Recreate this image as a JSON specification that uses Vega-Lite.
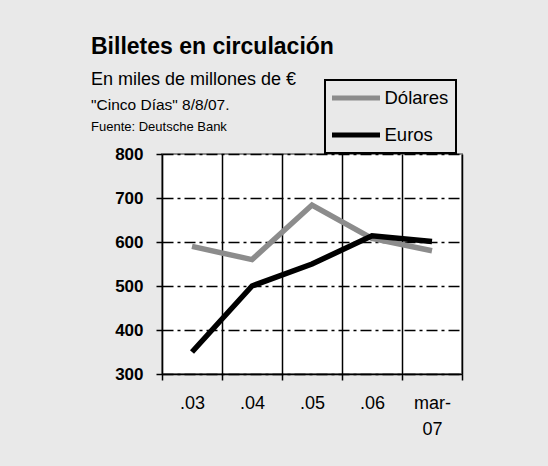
{
  "$schema": "https://vega.github.io/schema/vega-lite/v6.json",
  "background": "#e9e9e9",
  "padding": {"left": 90, "top": 35, "right": 87, "bottom": 28},
  "title": {
    "text": "Billetes en circulación",
    "subtitle": "En miles de millones de €",
    "anchor": "start",
    "frame": "group",
    "dx": -71,
    "font": "Liberation Sans",
    "fontSize": 23,
    "fontWeight": "bold",
    "color": "black",
    "subtitleFont": "Liberation Sans",
    "subtitleFontSize": 18,
    "subtitleColor": "black",
    "subtitlePadding": 12,
    "offset": -10.6
  },
  "data": {
    "values": [
      {"periodo": ".03", "serie": "Dólares", "valor": 590},
      {"periodo": ".04", "serie": "Dólares", "valor": 560},
      {"periodo": ".05", "serie": "Dólares", "valor": 684},
      {"periodo": ".06", "serie": "Dólares", "valor": 608},
      {"periodo": "mar-07", "serie": "Dólares", "valor": 580},
      {"periodo": ".03", "serie": "Euros", "valor": 350},
      {"periodo": ".04", "serie": "Euros", "valor": 500},
      {"periodo": ".05", "serie": "Euros", "valor": 550},
      {"periodo": ".06", "serie": "Euros", "valor": 614},
      {"periodo": "mar-07", "serie": "Euros", "valor": 601}
    ]
  },
  "vconcat": [
    {
      "width": 300,
      "height": 220,
      "title": {
        "text": "\"Cinco Días\" 8/8/07.",
        "subtitle": "Fuente: Deutsche Bank",
        "anchor": "start",
        "frame": "group",
        "dx": -71,
        "offset": -54.5,
        "font": "Liberation Sans",
        "fontSize": 15.5,
        "fontWeight": "normal",
        "color": "black",
        "subtitleFont": "Liberation Sans",
        "subtitleFontSize": 13,
        "subtitleColor": "black",
        "subtitlePadding": 7.4
      },
      "mark": {"type": "line", "strokeWidth": 5.5},
      "encoding": {
        "x": {
          "field": "periodo",
          "type": "nominal",
          "sort": [".03", ".04", ".05", ".06", "mar-07"],
          "scale": {"type": "band", "paddingInner": 0, "paddingOuter": 0},
          "axis": {
            "title": null,
            "labelAngle": 0,
            "labelFontSize": 18,
            "labelExpr": "datum.value == 'mar-07' ? ['mar-', '07'] : datum.value",
            "labelLineHeight": 26,
            "tickBand": "extent",
            "tickSize": 6,
            "labelPadding": 14,
            "grid": true,
            "gridColor": {"condition": {"test": "datum.extra", "value": "#8c8c8c"}, "value": "black"},
            "gridWidth": 1.5
          }
        },
        "y": {
          "field": "valor",
          "type": "quantitative",
          "scale": {"domain": [300, 800], "nice": false, "zero": false},
          "axis": {
            "title": null,
            "values": [300, 400, 500, 600, 700, 800],
            "labelFontSize": 17,
            "labelFontWeight": "bold",
            "tickSize": 6,
            "labelPadding": 13,
            "grid": true,
            "gridColor": "black",
            "gridWidth": 1.5,
            "gridDash": [11, 4, 3, 4]
          }
        },
        "color": {
          "field": "serie",
          "type": "nominal",
          "scale": {"domain": ["Dólares", "Euros"], "range": ["#8c8c8c", "#000000"]},
          "legend": {
            "title": null,
            "orient": "none",
            "legendX": 163,
            "legendY": -74,
            "symbolType": "stroke",
            "symbolSize": 2500,
            "symbolStrokeWidth": 5,
            "symbolOffset": -4.5,
            "clipHeight": 22,
            "rowPadding": 15,
            "padding": 7,
            "labelFontSize": 18.5,
            "labelOffset": 2,
            "labelColor": "black",
            "labelFont": "Liberation Sans",
            "strokeColor": "black"
          }
        }
      }
    }
  ],
  "resolve": {"scale": {"color": "independent"}},
  "config": {
    "font": "Liberation Sans",
    "view": {"fill": "white", "stroke": "#8c8c8c", "strokeWidth": 2},
    "axis": {
      "domainColor": "black",
      "domainWidth": 1.5,
      "tickColor": "black",
      "tickWidth": 1.5,
      "labelColor": "black",
      "labelFont": "Liberation Sans"
    },
    "legend": {"strokeWidth": 2}
  }
}
